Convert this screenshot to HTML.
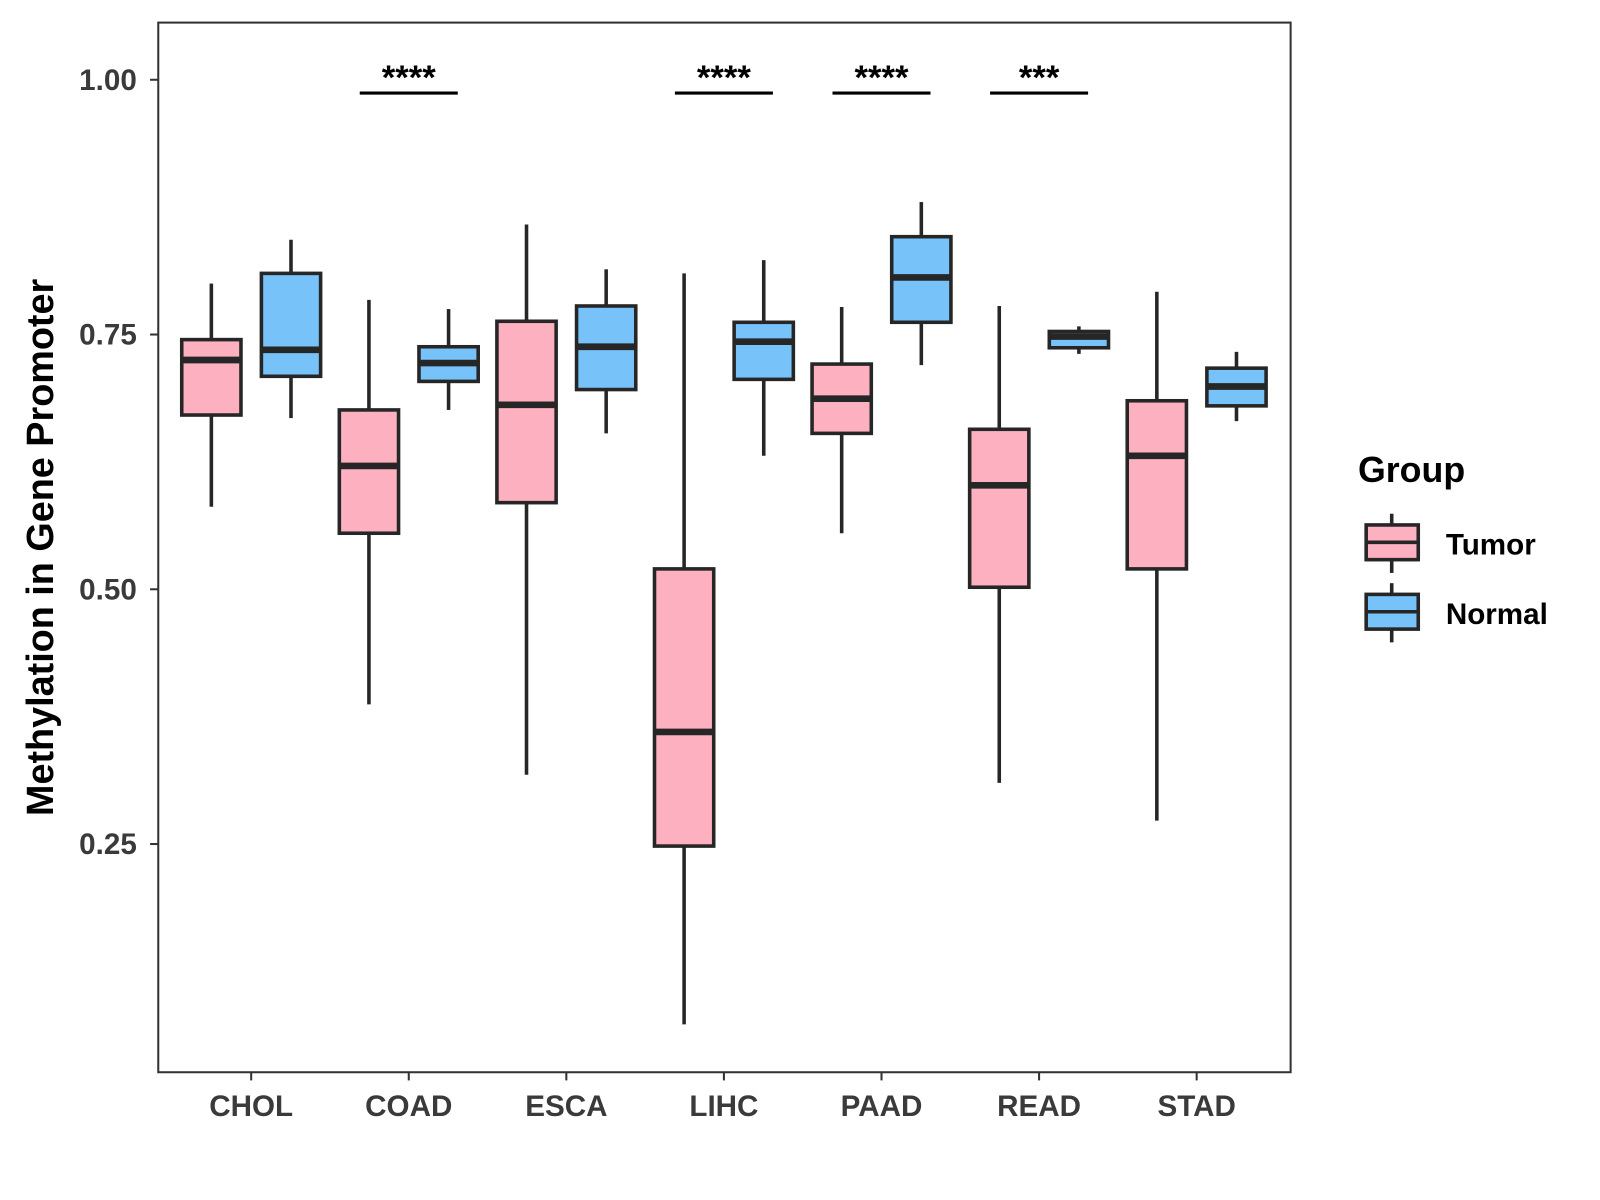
<!DOCTYPE html>
<html><head><meta charset="utf-8"><style>
html,body{margin:0;padding:0;background:#fff}
svg{display:block;font-family:"Liberation Sans",Arial,sans-serif}
</style></head><body>
<svg id="chart" width="1600" height="1200" viewBox="0 0 1567 1175" xmlns="http://www.w3.org/2000/svg">
<rect x="0" y="0" width="1567" height="1175" fill="#fff"/>
<g id="marks"></g>
<rect x="155" y="22" width="1109" height="1028" fill="none" stroke="#333" stroke-width="2"/>
<g id="axes"></g>
<text x="52" y="536" transform="rotate(-90 52 536)" text-anchor="middle" font-size="37" font-weight="bold" fill="#000">Methylation in Gene Promoter</text>
<g>
<text x="1330" y="472" font-size="35" font-weight="bold" fill="#000">Group</text>
<g>
<line x1="1363" y1="503" x2="1363" y2="561" stroke="#262626" stroke-width="3.5"/>
<rect x="1338" y="514" width="51" height="34" fill="#FDB0C0" stroke="#262626" stroke-width="3.5"/>
<line x1="1338" y1="531" x2="1389" y2="531" stroke="#262626" stroke-width="3.5"/>
<text x="1416" y="543" font-size="29" font-weight="bold" fill="#000">Tumor</text>
</g>
<g>
<line x1="1363" y1="571" x2="1363" y2="629" stroke="#262626" stroke-width="3.5"/>
<rect x="1338" y="582" width="51" height="34" fill="#77C2F9" stroke="#262626" stroke-width="3.5"/>
<line x1="1338" y1="599" x2="1389" y2="599" stroke="#262626" stroke-width="3.5"/>
<text x="1416" y="611" font-size="29" font-weight="bold" fill="#000">Normal</text>
</g>
</g>
</svg>
<script>
const categories = ["CHOL","COAD","ESCA","LIHC","PAAD","READ","STAD"];
// [low, q1, median, q3, high]
const tumorStats = [
 [0.581,0.671,0.725,0.745,0.800],
 [0.387,0.555,0.621,0.676,0.784],
 [0.318,0.585,0.681,0.763,0.858],
 [0.073,0.248,0.360,0.520,0.810],
 [0.555,0.653,0.687,0.721,0.777],
 [0.310,0.502,0.602,0.657,0.778],
 [0.273,0.520,0.631,0.685,0.792]
];
const normalStats = [
 [0.668,0.709,0.735,0.810,0.843],
 [0.676,0.704,0.722,0.738,0.775],
 [0.653,0.696,0.738,0.778,0.814],
 [0.631,0.706,0.743,0.762,0.823],
 [0.720,0.762,0.806,0.846,0.880],
 [0.731,0.737,0.748,0.753,0.758],
 [0.665,0.680,0.699,0.717,0.733]
];
const significance = ["","****","","****","****","***",""];
const yTicks = [0.25,0.50,0.75,1.00];
const yTickLabels = ["0.25","0.50","0.75","1.00"];

const NS="http://www.w3.org/2000/svg";
function yScale(v){return 78+(1-v)*998;}
function xScale(i){return 246+i*154.33;}
function mk(tag,attrs,parent){const e=document.createElementNS(NS,tag);for(const k in attrs)e.setAttribute(k,attrs[k]);parent.appendChild(e);return e;}
const marks=document.getElementById('marks');
const axes=document.getElementById('axes');

function drawBox(s,cx,fill,name){
  const g=mk('g',{},marks);
  
  
  const w=58;
  mk('line',{x1:cx,x2:cx,y1:yScale(s[4]),y2:yScale(s[3]),stroke:'#262626','stroke-width':3.5},g);
  mk('line',{x1:cx,x2:cx,y1:yScale(s[1]),y2:yScale(s[0]),stroke:'#262626','stroke-width':3.5},g);
  mk('rect',{x:cx-w/2,y:yScale(s[3]),width:w,height:yScale(s[1])-yScale(s[3]),fill:fill,stroke:'#262626','stroke-width':3.5},g);
  mk('line',{x1:cx-w/2,x2:cx+w/2,y1:yScale(s[2]),y2:yScale(s[2]),stroke:'#262626','stroke-width':6.5},g);
}
categories.forEach((c,i)=>{
  const cx=xScale(i);
  drawBox(tumorStats[i],cx-39,'#FDB0C0','box-tumor-'+c.toLowerCase());
  drawBox(normalStats[i],cx+39,'#77C2F9','box-normal-'+c.toLowerCase());
  if(significance[i]){
    const g=mk('g',{},marks);
    
    
    mk('line',{x1:cx-48,x2:cx+48,y1:91,y2:91,stroke:'#000','stroke-width':3},g);
    const t=mk('text',{x:cx,y:87,'text-anchor':'middle','font-size':34,'font-weight':'bold',fill:'#000'},g);
    t.textContent=significance[i];
  }
  mk('line',{x1:cx,x2:cx,y1:1050,y2:1058,stroke:'#333','stroke-width':2},axes);
  const t=mk('text',{x:cx,y:1093,'text-anchor':'middle','font-size':29,'font-weight':'bold',fill:'#3a3a3a'},axes);
  
  
  t.textContent=c;
});
yTicks.forEach((v,i)=>{
  const y=yScale(v);
  mk('line',{x1:147,x2:155,y1:y,y2:y,stroke:'#333','stroke-width':2},axes);
  const t=mk('text',{x:134,y:y+10,'text-anchor':'end','font-size':29,'font-weight':'bold',fill:'#3a3a3a'},axes);
  
  
  t.textContent=yTickLabels[i];
});
</script>
</body></html>
